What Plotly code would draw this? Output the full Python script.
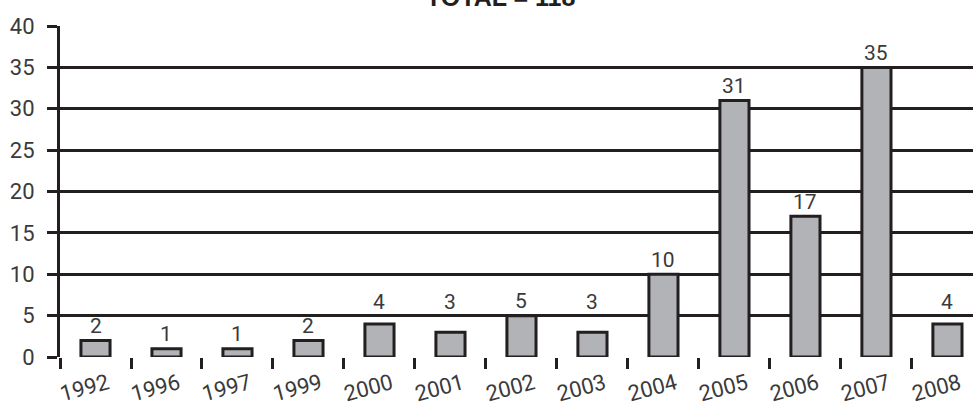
import plotly.graph_objects as go

years = ["1992", "1996", "1997", "1999", "2000", "2001", "2002", "2003", "2004", "2005", "2006", "2007", "2008"]
counts = [2, 1, 1, 2, 4, 3, 5, 3, 10, 31, 17, 35, 4]
y_ticks = [0, 5, 10, 15, 20, 25, 30, 35, 40]
title_text = "TOTAL = 118"

DARK = "#231f20"
GREY = "#b1b3b6"
TXT = "#3a3a3a"
FONT = "Roboto"

H, W = 407, 973
M = dict(l=60, r=0, t=26, b=50)
Y_MAX = 40
LABEL_SIZE = 21

fig = go.Figure(
    go.Bar(
        x=years,
        y=counts,
        width=0.41,
        marker=dict(color=GREY, line=dict(color=DARK, width=3)),
        cliponaxis=False,
    )
)

# value labels: sit just above the bar, but hop over a gridline they would cross
px_per_unit = (H - M["t"] - M["b"]) / Y_MAX
digit_h = 0.72 * LABEL_SIZE
gap = 6
annotations = []
for i, v in enumerate(counts):
    bottom = v * px_per_unit + gap          # px above zero of digit bottom
    top = bottom + digit_h
    for g in y_ticks:
        gp = g * px_per_unit
        if bottom - 2 < gp < top - 1:
            bottom = gp + 5
            top = bottom + digit_h
    shift = bottom - v * px_per_unit - 0.22 * LABEL_SIZE - 1
    annotations.append(dict(
        x=i, y=v, xref="x", yref="y", text=str(v), showarrow=False,
        xanchor="center", yanchor="bottom", yshift=shift,
        font=dict(family=FONT, size=LABEL_SIZE, color=TXT),
    ))

annotations.append(dict(
    text="<b>" + title_text + "</b>",
    xref="paper", yref="paper",
    x=0.482, y=1.04,
    xanchor="center", yanchor="bottom",
    showarrow=False,
    font=dict(family="Liberation Sans", size=25, color=DARK),
))

fig.update_layout(
    width=W,
    height=H,
    margin=M,
    paper_bgcolor="white",
    plot_bgcolor="white",
    showlegend=False,
    annotations=annotations,
)

fig.update_xaxes(
    type="category",
    range=[-0.5, 12.36],
    tickson="boundaries",
    ticks="outside",
    ticklen=11,
    tickwidth=2.5,
    tickcolor=DARK,
    showline=False,
    showgrid=False,
    tickangle=-15,
    ticklabelshift=12,
    ticklabelstandoff=9,
    tickfont=dict(family=FONT, size=22, color=TXT),
)

fig.update_yaxes(
    range=[0, Y_MAX],
    tickvals=y_ticks,
    ticks="outside",
    ticklen=10,
    tickwidth=2.5,
    tickcolor=DARK,
    showgrid=True,
    gridcolor=DARK,
    gridwidth=2.5,
    zeroline=False,
    showline=True,
    linecolor=DARK,
    linewidth=3,
    ticklabelstandoff=8,
    tickfont=dict(family=FONT, size=22, color=TXT),
)

fig.write_html("out.html")
